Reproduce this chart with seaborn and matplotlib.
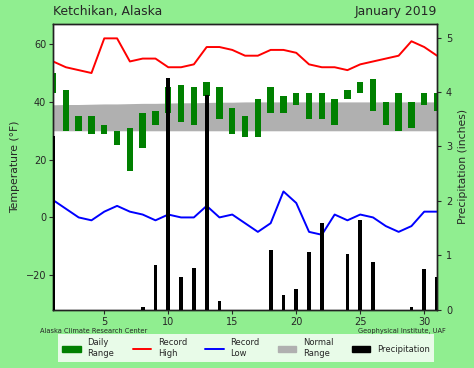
import matplotlib
matplotlib.use("Agg")
import matplotlib.pyplot as plt
import numpy as np
import pandas as pd
import seaborn as sns
from matplotlib.lines import Line2D
from matplotlib.patches import Patch

days = list(range(1, 32))
range_low = [43, 30, 30, 29, 29, 25, 16, 24, 32, 36, 33, 32, 42, 34, 29, 28,
             28, 36, 36, 39, 34, 34, 32, 41, 43, 37, 32, 30, 31, 39, 37]
range_high = [50, 44, 35, 35, 32, 30, 31, 36, 37, 45, 46, 45, 47, 45, 38, 35,
              41, 45, 42, 43, 43, 43, 41, 44, 47, 48, 40, 43, 40, 43, 43]
record_high = [54, 52, 51, 50, 62, 62, 54, 55, 55, 52, 52, 53, 59, 59, 58, 56,
               56, 58, 58, 57, 53, 52, 52, 51, 53, 54, 55, 56, 61, 59, 56]
record_low = [6, 3, 0, -1, 2, 4, 2, 1, -1, 1, 0, 0, 4, 0, 1, -2,
              -5, -2, 9, 5, -5, -6, 1, -1, 1, 0, -3, -5, -3, 2, 2]
normal_high = [39.0, 39.1, 39.1, 39.2, 39.3, 39.3, 39.4, 39.5, 39.5, 39.6, 39.7,
               39.7, 39.8, 39.9, 39.9, 40.0, 40, 40, 40, 40, 40, 40, 40, 40,
               40, 40, 40, 40, 40, 40, 40]
normal_low = [30] * 31
precip = [3.2, 0, 0, 0, 0, 0, 0, 0.05, 0.82, 4.25, 0.6, 0.76, 3.94, 0.16, 0, 0,
          0, 1.09, 0.28, 0.38, 1.06, 1.6, 0, 1.03, 1.65, 0.87, 0, 0, 0.05, 0.75, 0.6]

df = pd.DataFrame({"day": days, "low": range_low, "high": range_high,
                   "rec_high": record_high, "rec_low": record_low,
                   "norm_high": normal_high, "norm_low": normal_low,
                   "precip": precip})

sns.set_style("ticks")
bg = "#90ee90"
fig = plt.figure(figsize=(4.74, 3.68), dpi=100, facecolor=bg)
ax = fig.add_axes([0.112, 0.158, 0.81, 0.777])
ax.set_facecolor("white")

ax.fill_between(df["day"], df["norm_low"], df["norm_high"], color="#b0b0b0", lw=0, zorder=1)
ax.bar(df["day"], df["high"] - df["low"], bottom=df["low"], width=0.5, color="green",
       linewidth=0, zorder=2)
sns.lineplot(data=df, x="day", y="rec_high", color="red", lw=1.4, ax=ax, zorder=3)
sns.lineplot(data=df, x="day", y="rec_low", color="blue", lw=1.4, ax=ax, zorder=3)

ax.set_xlim(1, 31)
ax.set_ylim(-32, 67)
ax.set_yticks([-20, 0, 20, 40, 60])
ax.set_xticks([5, 10, 15, 20, 25, 30])
ax.set_xlabel("")
ax.set_ylabel("Temperature (°F)", fontsize=7.8)
ax.tick_params(labelsize=7, length=3, pad=2)

ax2 = ax.twinx()
ax2.bar(df["day"], df["precip"], width=0.3, color="black", linewidth=0, zorder=4)
ax2.set_ylim(0, 5.25)
ax2.set_yticks([0, 1, 2, 3, 4, 5])
ax2.set_ylabel("Precipitation (inches)", fontsize=7.8)
ax2.tick_params(labelsize=7, length=3)

for a in (ax, ax2):
    for s in a.spines.values():
        s.set_color("#222222")
        s.set_linewidth(1.0)

ax.text(0.0, 1.02, "Ketchikan, Alaska", transform=ax.transAxes, ha="left",
        va="bottom", fontsize=8.9)
ax.text(1.0, 1.02, "January 2019", transform=ax.transAxes, ha="right",
        va="bottom", fontsize=8.9)

fig.text(40 / 474, 1 - 331 / 368, "Alaska Climate Research Center", fontsize=4.8,
         ha="left", va="center")
fig.text(446 / 474, 1 - 331 / 368, "Geophysical Institute, UAF", fontsize=4.8,
         ha="right", va="center")

handles = [Patch(color="green", label="Daily\nRange"),
           Line2D([0], [0], color="red", lw=1.4, label="Record\nHigh"),
           Line2D([0], [0], color="blue", lw=1.4, label="Record\nLow"),
           Patch(color="#b0b0b0", label="Normal\nRange"),
           Patch(color="black", label="Precipitation")]
fig.legend(handles=handles, loc="center", bbox_to_anchor=(0.519, 0.054), ncol=5,
           fontsize=6, frameon=True, fancybox=False, framealpha=0.8,
           facecolor="white", edgecolor="none", handlelength=2.2,
           columnspacing=2.2, borderpad=0.5)

fig.savefig("out.png", dpi=100, facecolor=bg)
